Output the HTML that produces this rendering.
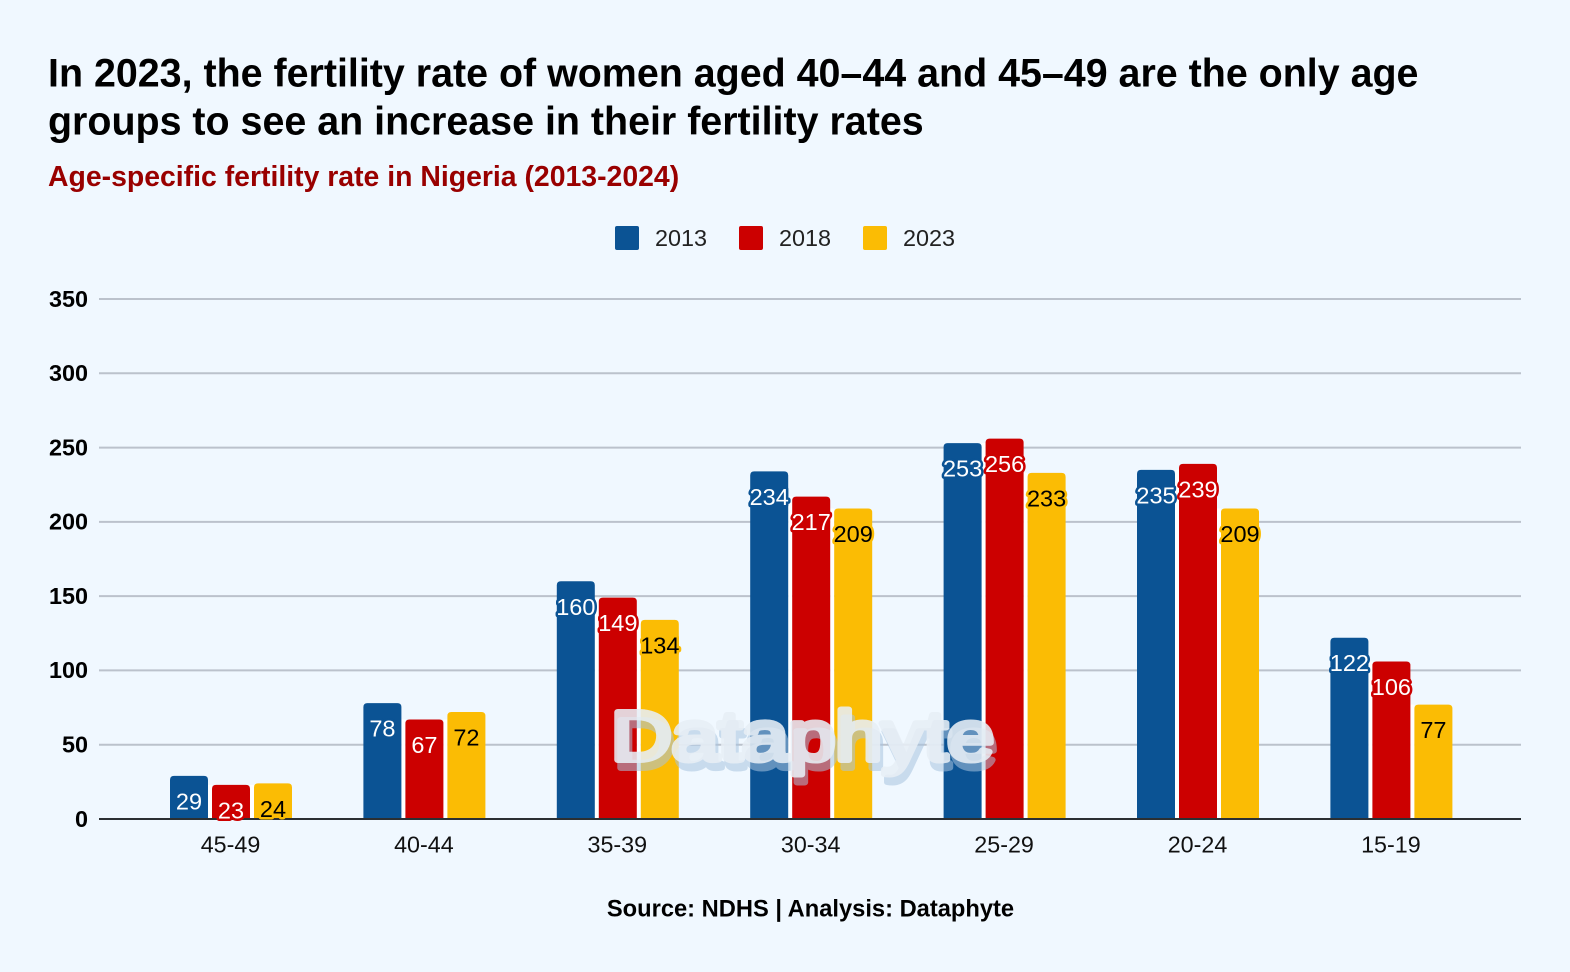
<!DOCTYPE html>
<html lang="en">
<head>
<meta charset="utf-8">
<title>Age-specific fertility rate in Nigeria</title>
<style>
html,body{margin:0;padding:0;background:#f0f8ff;}
svg{display:block;font-family:"Liberation Sans",Arial,sans-serif;}
</style>
</head>
<body>
<svg id="chart" xmlns="http://www.w3.org/2000/svg" width="1570" height="972" viewBox="0 0 1570 972">
<rect x="0" y="0" width="1570" height="972" fill="#f0f8ff"/>
<text x="48" y="86.5" font-size="39.4" font-weight="700" fill="#000">In 2023, the fertility rate of women aged 40–44 and 45–49 are the only age</text>
<text x="48" y="134.5" font-size="39.4" font-weight="700" fill="#000">groups to see an increase in their fertility rates</text>
<text x="48" y="186" font-size="28.4" font-weight="700" fill="#990000">Age-specific fertility rate in Nigeria (2013-2024)</text>
<g id="legend"></g>
<g id="grid"></g>
<g id="yticks"></g>
<g id="bars"></g>
<line x1="99" x2="1521" y1="819" y2="819" stroke="#2b2f33" stroke-width="2"/>
<g id="labels"></g>
<g id="xticks"></g>
<g font-size="70" font-weight="400">
<text x="614" y="768" textLength="383" lengthAdjust="spacingAndGlyphs" fill="#a9c5e0" stroke="#a9c5e0" stroke-width="6" stroke-linejoin="round" opacity="0.55">Dataphyte</text>
<text x="611" y="760" textLength="383" lengthAdjust="spacingAndGlyphs" fill="#e8eff6" stroke="#e8eff6" stroke-width="6" stroke-linejoin="round" opacity="0.88">Dataphyte</text>
</g>
<text x="810.5" y="916.5" font-size="23.7" font-weight="700" fill="#000" text-anchor="middle">Source: NDHS | Analysis: Dataphyte</text>
</svg>
<script>
const categories = ["45-49","40-44","35-39","30-34","25-29","20-24","15-19"];
const seriesNames = ["2013","2018","2023"];
const values2013 = [29,78,160,234,253,235,122];
const values2018 = [23,67,149,217,256,239,106];
const values2023 = [24,72,134,209,233,209,77];
const yTickValues = [0,50,100,150,200,250,300,350];

const NS = "http://www.w3.org/2000/svg";
const colors = ["#0b5394","#cc0000","#fbbc04"];
const labelColors = ["#ffffff","#ffffff","#000000"];
const allSeries = [values2013, values2018, values2023];
const plotLeft = 99, plotRight = 1521, plotBottom = 819, plotTop = 299, yMax = 350;
const firstCenter = 231, groupStep = 193.4, barWidth = 38, barStep = 42;

function yScale(v){ return plotBottom - v / yMax * (plotBottom - plotTop); }
function xCenter(i){ return firstCenter + i * groupStep; }
function make(tag, attrs, parent, txt){
  const el = document.createElementNS(NS, tag);
  for (const k in attrs) el.setAttribute(k, attrs[k]);
  if (txt !== undefined) el.textContent = txt;
  parent.appendChild(el);
  return el;
}
function topRounded(x, y, w, h, r){
  const rr = Math.min(r, h);
  return "M" + x + " " + (y + h) + "V" + (y + rr) + "Q" + x + " " + y + " " + (x + rr) + " " + y +
    "H" + (x + w - rr) + "Q" + (x + w) + " " + y + " " + (x + w) + " " + (y + rr) + "V" + (y + h) + "Z";
}

const gridG = document.getElementById("grid");
const yG = document.getElementById("yticks");
yTickValues.forEach(function(v){
  if (v > 0) {
    const gl = make("line", {x1: plotLeft, x2: plotRight, y1: yScale(v), y2: yScale(v), stroke: "#bbc2cc", "stroke-width": 2}, gridG);
    
    
  }
  const t = make("text", {x: 88, y: yScale(v) + 7.8, "font-size": 23.4, "font-weight": 700, "text-anchor": "end", fill: "#000"}, yG, String(v));
  
  
});

const barsG = document.getElementById("bars");
const labelsG = document.getElementById("labels");
categories.forEach(function(c, i){
  [0, 1].forEach(function(s){
    const gapTop = yScale(Math.min(allSeries[s][i], allSeries[s + 1][i]));
    const gx = xCenter(i) + (s - 1) * barStep + barWidth / 2;
    const gap = make("rect", {x: gx, y: gapTop, width: barStep - barWidth, height: plotBottom - gapTop, fill: "#ffffff"}, barsG);
    
    
  });
});
allSeries.forEach(function(vals, s){
  vals.forEach(function(v, i){
    const x = xCenter(i) + (s - 1) * barStep - barWidth / 2;
    const y = yScale(v);
    const bar = make("path", {d: topRounded(x, y, barWidth, plotBottom - y, 4), fill: colors[s]}, barsG);
    
    
    const lab = make("text", {
      x: x + barWidth / 2, y: y + 33.5, "font-size": 23.5, "text-anchor": "middle",
      fill: labelColors[s], stroke: colors[s], "stroke-width": 5, "stroke-linejoin": "round", "paint-order": "stroke"
    }, labelsG, String(v));
    
    
  });
});

const xG = document.getElementById("xticks");
categories.forEach(function(c, i){
  const t = make("text", {x: xCenter(i) - 0.5, y: 852.7, "font-size": 23.3, "text-anchor": "middle", fill: "#111"}, xG, c);
  
  
});

const legendG = document.getElementById("legend");
seriesNames.forEach(function(n, i){
  const lx = 615 + i * 124;
  const sw = make("rect", {x: lx, y: 226, width: 24, height: 24, rx: 2, fill: colors[i]}, legendG);
  
  
  const t = make("text", {x: lx + 40, y: 246, "font-size": 23.4, fill: "#222"}, legendG, n);
  
  
});
</script>
</body>
</html>
